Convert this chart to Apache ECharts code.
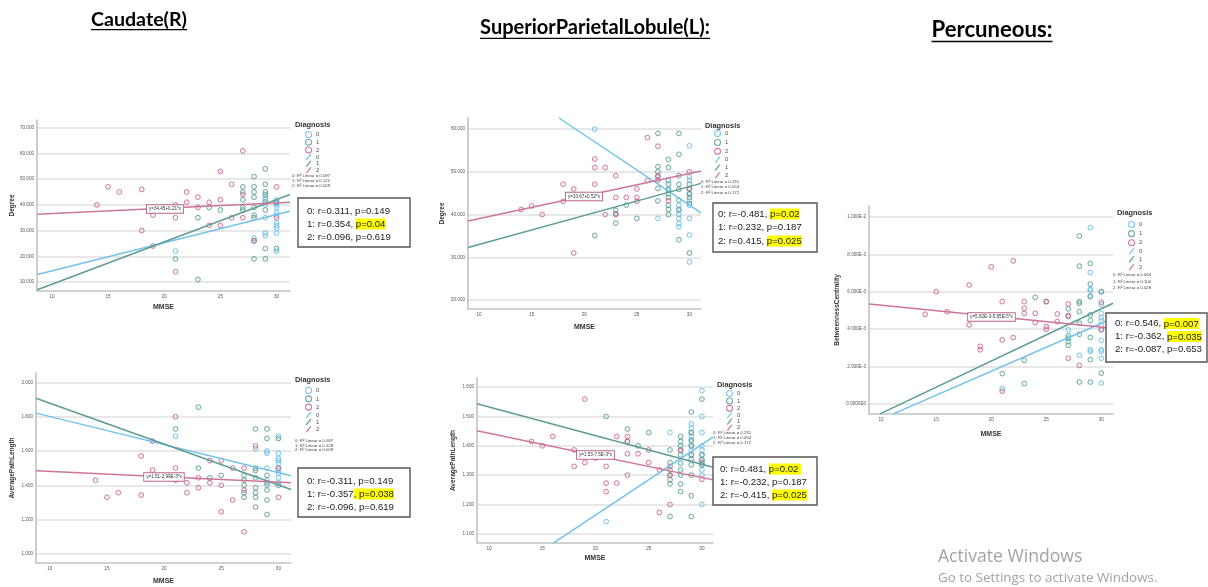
<!DOCTYPE html>
<html><head><meta charset="utf-8">
<script src="https://cdn.jsdelivr.net/npm/echarts@6/dist/echarts.min.js"></script>
<style>html,body{margin:0;padding:0;background:#fff}#c{width:1208px;height:587px}</style>
</head><body><div id="c"></div>
<script>
// ---------------- DATA ----------------
const mmseTicks = [10, 15, 20, 25, 30];
const caudDegTicks = [10, 20, 30, 40, 50, 60, 70];
const caudAplTicks = [1.0, 1.2, 1.4, 1.6, 1.8, 2.0];
const splDegTicks = [20, 30, 40, 50, 60];
const splAplTicks = [1.1, 1.2, 1.3, 1.4, 1.5, 1.6];
const precBcTicks = [0, 0.002, 0.004, 0.006, 0.008, 0.01];
const precBcTickLabels = ['0.0000E0', '2.000E-3', '4.000E-3', '6.000E-3', '8.000E-3', '1.000E-2'];
const groupNames = ['0', '1', '2'];

// Caudate(R) Degree
const caudDeg0 = [[21,22],[28,27],[29,43],[29,42],[29,40],[29,35],[29,29],[29,28],[30,42],[30,41],[30,40],[30,39],[30,37],[30,36],[30,33],[30,32],[30,31],[30,29],[30,22]];
const caudDeg1 = [[21,19],[23,35],[23,11],[24,39],[25,38],[27,47],[27,45],[27,42],[27,39],[27,38],[28,51],[28,47],[28,45],[28,43],[28,39],[28,36],[28,35],[28,26],[28,19],[29,54],[29,48],[29,45],[29,44],[29,41],[29,38],[29,23],[29,19],[30,41],[30,23]];
const caudDeg2 = [[14,40],[15,47],[16,45],[18,46],[18,30],[19,36],[19,24],[21,40],[21,35],[21,14],[22,45],[22,41],[23,43],[23,39],[24,41],[24,32],[25,53],[25,42],[25,32],[26,48],[26,35],[27,61],[27,44],[27,35],[28,26],[30,47],[30,35]];
const caudDegFit0 = [[8.7,12.9],[31.2,37.5]];
const caudDegFit1 = [[8.7,7.0],[31.2,44.0]];
const caudDegFit2 = [[8.7,36.3],[31.2,41.0]];

// Caudate(R) AveragePathLength
const caudApl0 = [[21,1.686],[28,1.614],[29,1.60],[29,1.587],[29,1.50],[29,1.43],[29,1.40],[30,1.686],[30,1.587],[30,1.557],[30,1.544],[30,1.528],[30,1.50],[30,1.487],[30,1.47],[30,1.444],[30,1.415]];
const caudApl1 = [[21,1.729],[23,1.856],[23,1.50],[24,1.444],[25,1.458],[27,1.458],[27,1.43],[27,1.40],[27,1.357],[27,1.33],[28,1.729],[28,1.50],[28,1.487],[28,1.444],[28,1.386],[28,1.357],[28,1.33],[28,1.273],[29,1.729],[29,1.673],[29,1.458],[29,1.415],[29,1.372],[29,1.314],[29,1.23],[30,1.673],[30,1.40]];
const caudApl2 = [[14,1.43],[15,1.33],[16,1.357],[18,1.571],[18,1.343],[19,1.489],[19,1.657],[21,1.80],[21,1.50],[21,1.43],[22,1.415],[22,1.357],[23,1.444],[23,1.386],[24,1.544],[24,1.415],[25,1.544],[25,1.40],[25,1.246],[26,1.50],[26,1.314],[27,1.50],[27,1.372],[27,1.129],[28,1.63],[30,1.50],[30,1.33]];
const caudAplFit0 = [[8.8,1.821],[31.1,1.456]];
const caudAplFit1 = [[8.8,1.908],[31.1,1.376]];
const caudAplFit2 = [[8.8,1.485],[31.1,1.415]];

// SuperiorParietalLobule(L) Degree
const splDeg0 = [[21,60],[27,39.1],[28,45.7],[29,42.2],[29,41],[29,40],[29,39.1],[29,37.9],[29,37.1],[30,56.1],[30,48.8],[30,48],[30,44.9],[30,43.4],[30,42.2],[30,39.1],[30,35.2],[30,28.9]];
const splDeg1 = [[21,35.1],[23,41],[23,40.2],[23,38],[24,42.2],[25,39.1],[27,59],[27,51.2],[27,50],[27,48.8],[27,46.1],[27,43.2],[28,52.9],[28,51],[28,48],[28,47.1],[28,45.9],[28,44.9],[28,44],[28,42.2],[28,41.2],[28,40],[29,59],[29,54.1],[29,49.1],[29,47.1],[29,45.9],[29,43.4],[29,41.2],[29,34.1],[30,47.1],[30,45.9],[30,44.8],[30,44],[30,42.6],[30,31]];
const splDeg2 = [[14,41.2],[15,42],[16,40],[18,47.1],[18,43.1],[19,46],[19,31],[21,53],[21,51],[21,47.1],[22,51],[22,40],[23,49.1],[23,44],[23,40],[24,44],[25,46],[25,44],[25,43.1],[26,58],[26,48],[27,56],[27,49.1],[27,48],[28,43.2],[30,50],[30,46.1]];
const splDegFit0 = [[17.6,62.6],[31.1,40.4]];
const splDegFit1 = [[8.95,32.3],[31.1,47.3]];
const splDegFit2 = [[8.95,38.5],[31.1,50.2]];

// SuperiorParietalLobule(L) AveragePathLength
const splApl0 = [[21,1.142],[27,1.445],[29,1.474],[29,1.46],[29,1.445],[29,1.432],[29,1.415],[29,1.40],[29,1.384],[29,1.369],[30,1.588],[30,1.50],[30,1.445],[30,1.40],[30,1.386],[30,1.369],[30,1.352],[30,1.335],[30,1.318],[30,1.30],[30,1.20]];
const splApl1 = [[21,1.50],[23,1.457],[23,1.415],[24,1.40],[25,1.445],[27,1.386],[27,1.343],[27,1.318],[27,1.30],[27,1.284],[27,1.27],[27,1.159],[28,1.432],[28,1.415],[28,1.40],[28,1.384],[28,1.369],[28,1.341],[28,1.318],[28,1.30],[28,1.27],[28,1.244],[29,1.515],[29,1.445],[29,1.42],[29,1.40],[29,1.369],[29,1.355],[29,1.335],[29,1.30],[29,1.23],[29,1.159],[30,1.559],[30,1.369],[30,1.352],[30,1.335]];
const splApl2 = [[14,1.415],[15,1.40],[16,1.432],[18,1.386],[18,1.33],[19,1.559],[19,1.343],[20,1.358],[21,1.33],[21,1.273],[21,1.244],[22,1.432],[22,1.273],[23,1.432],[23,1.415],[23,1.373],[23,1.30],[24,1.373],[25,1.386],[25,1.343],[26,1.318],[26,1.173],[27,1.33],[27,1.30],[27,1.20],[28,1.386],[30,1.343],[30,1.286]];
const splAplFit0 = [[16.0,1.068],[31.04,1.43]];
const splAplFit1 = [[8.87,1.543],[31.04,1.327]];
const splAplFit2 = [[8.87,1.451],[31.04,1.284]];

// Percuneous BetweennessCentrality
const precBc0 = [[21,0.00081],[27,0.00396],[28,0.00259],[29,0.00943],[29,0.00703],[29,0.00614],[29,0.00609],[29,0.00573],[29,0.00289],[29,0.0028],[30,0.0060],[30,0.00532],[30,0.00484],[30,0.00461],[30,0.00444],[30,0.00419],[30,0.00396],[30,0.00339],[30,0.00289],[30,0.0028],[30,0.00244],[30,0.00111]];
const precBc1 = [[21,0.00161],[23,0.00232],[23,0.00108],[24,0.0057],[25,0.00547],[27,0.00508],[27,0.00467],[27,0.00364],[27,0.00351],[27,0.00333],[27,0.00312],[28,0.00899],[28,0.00737],[28,0.00547],[28,0.00538],[28,0.00493],[28,0.00431],[28,0.00372],[28,0.00116],[29,0.00751],[29,0.00641],[29,0.00577],[29,0.00476],[29,0.00445],[29,0.00355],[29,0.00236],[29,0.00116],[30,0.0060],[30,0.00164]];
const precBc2 = [[14,0.00479],[15,0.0060],[16,0.00493],[18,0.00636],[18,0.00422],[19,0.00307],[19,0.00289],[20,0.00733],[21,0.00547],[21,0.00342],[21,0.00067],[22,0.00765],[22,0.00355],[23,0.00547],[23,0.00511],[23,0.00484],[24,0.00484],[24,0.00435],[25,0.00547],[25,0.00413],[25,0.00399],[26,0.00481],[26,0.0044],[27,0.00534],[27,0.00472],[27,0.00244],[28,0.00205],[30,0.00543],[30,0.00396]];
const precBcFit0 = [[11.1,-0.00054],[31.06,0.00458]];
const precBcFit1 = [[9.9,-0.00054],[31.06,0.00538]];
const precBcFit2 = [[8.9,0.00534],[31.06,0.00404]];

// Texts
const caudDegR2 = ['0: R\u00b2 Linear = 0.097', '1: R\u00b2 Linear = 0.125', '2: R\u00b2 Linear = 0.009'];
const caudAplR2 = ['0: R\u00b2 Linear = 0.097', '1: R\u00b2 Linear = 0.128', '2: R\u00b2 Linear = 0.009'];
const splDegR2 = ['0: R\u00b2 Linear = 0.231', '1: R\u00b2 Linear = 0.054', '2: R\u00b2 Linear = 0.172'];
const splAplR2 = ['0: R\u00b2 Linear = 0.231', '1: R\u00b2 Linear = 0.054', '2: R\u00b2 Linear = 0.172'];
const precBcR2 = ['0: R\u00b2 Linear = 0.064', '1: R\u00b2 Linear = 0.100', '2: R\u00b2 Linear = 0.028'];
const caudDegStats = [['0: r=0.311, p=0.149', ''], ['1: r=0.354, ', 'p=0.04'], ['2: r=0.096, p=0.619', '']];
const caudAplStats = [['0: r=-0.311, p=0.149', ''], ['1: r=-0.357', ', p=0.038'], ['2: r=-0.096, p=0.619', '']];
const splDegStats = [['0: r=-0.481, ', 'p=0.02'], ['1: r=0.232, p=0.187', ''], ['2: r=0.415, ', 'p=0.025']];
const splAplStats = [['0: r=0.481, ', 'p=0.02 '], ['1: r=-0.232, p=0.187', ''], ['2: r=-0.415, ', 'p=0.025']];
const precBcStats = [['0: r=0.546, ', 'p=0.007'], ['1: r=-0.362, ', 'p=0.035'], ['2: r=-0.087, p=0.653', '']];

// ---------------- STYLE / LAYOUT ----------------
const COL = ['#5fb9e6', '#4f978b', '#c45d89'];
const FILL = ['rgba(95,185,230,0.10)', 'rgba(79,151,139,0.10)', 'rgba(196,93,137,0.10)'];
const LINECOL = ['#72c2ec', '#5e9d91', '#cf7499'];

const panels = [
  { grid: {left: 37, top: 120, width: 253, height: 171}, x: [8.67, 31.2], y: [6.5, 73], yTicks: caudDegTicks,
    yFmt: v => v.toFixed(3), yName: 'Degree', yGap: 21.5, xGap: 12.5,
    groups: [caudDeg0, caudDeg1, caudDeg2], fits: [caudDegFit0, caudDegFit1, caudDegFit2],
    legend: {left: 305, top: 131, gap: 0.6}, diag: [295, 125], r2: {x: 292, y: 176, dy: 5, lines: caudDegR2},
    stats: {box: [298, 198, 112, 49], tx: 307, ty: [211, 224, 237], lines: caudDegStats},
    eq: {x: 165, y: 209, text: 'y=34.45+0.21*x'} },
  { grid: {left: 36, top: 373, width: 255, height: 190}, x: [8.8, 31.1], y: [0.947, 2.055], yTicks: caudAplTicks,
    yFmt: v => v.toFixed(3), yName: 'AveragePathLength', yGap: 20.5, xGap: 14.5,
    groups: [caudApl0, caudApl1, caudApl2], fits: [caudAplFit0, caudAplFit1, caudAplFit2],
    legend: {left: 305, top: 387, gap: 1.2}, diag: [295, 380], r2: {x: 295, y: 441, dy: 4.5, lines: caudAplR2},
    stats: {box: [298, 468, 112, 49], tx: 307, ty: [481, 494, 507], lines: caudAplStats},
    eq: {x: 164, y: 477, text: 'y=1.51-2.99E-3*x'} },
  { grid: {left: 468, top: 118, width: 233, height: 191}, x: [8.95, 31.1], y: [17.9, 62.6], yTicks: splDegTicks,
    yFmt: v => v.toFixed(3), yName: 'Degree', yGap: 22.5, xGap: 14.5,
    groups: [splDeg0, splDeg1, splDeg2], fits: [splDegFit0, splDegFit1, splDegFit2],
    legend: {left: 714, top: 130, gap: 1.8}, diag: [705, 126], r2: {x: 701, y: 182, dy: 5.3, lines: splDegR2},
    stats: {box: [713, 203, 104, 49], tx: 718, ty: [214, 227.5, 241], lines: splDegStats},
    eq: {x: 584, y: 196.5, text: 'y=33.67+0.52*x'} },
  { grid: {left: 477, top: 378, width: 236, height: 165}, x: [8.87, 31.04], y: [1.069, 1.631], yTicks: splAplTicks,
    yFmt: v => v.toFixed(3), yName: 'AveragePathLength', yGap: 20.5, xGap: 11.5,
    groups: [splApl0, splApl1, splApl2], fits: [splAplFit0, splAplFit1, splAplFit2],
    legend: {left: 726, top: 390, gap: 0.3}, diag: [717, 385], r2: {x: 713, y: 433, dy: 5, lines: splAplR2},
    stats: {box: [713, 457, 104, 48], tx: 720, ty: [469, 482, 495], lines: splAplStats},
    eq: {x: 595.5, y: 455, text: 'y=1.53-7.5E-3*x'} },
  { grid: {left: 869, top: 206, width: 244, height: 208}, x: [8.9, 31.06], y: [-0.00055, 0.01059], yTicks: precBcTicks,
    yFmt: v => { const i = precBcTicks.indexOf(v); return i >= 0 ? precBcTickLabels[i] : v.toExponential(3).toUpperCase().replace('+', ''); },
    yName: 'BetweennessCentrality', yGap: 28.5, xGap: 16.5,
    groups: [precBc0, precBc1, precBc2], fits: [precBcFit0, precBcFit1, precBcFit2],
    legend: {left: 1128, top: 221, gap: 2}, diag: [1117, 213], r2: {x: 1113, y: 275, dy: 6.5, lines: precBcR2},
    stats: {box: [1106, 313, 101, 49], tx: 1115, ty: [323.5, 336.5, 349.5], lines: precBcStats},
    eq: {x: 991.5, y: 317, text: 'y=5.82E-3-5.85E-5*x'} }
];

const titles = [
  {text: 'Caudate(R)', cx: 139, cy: 19.5, w: 96},
  {text: 'SuperiorParietalLobule(L):', cx: 595, cy: 28, w: 230},
  {text: 'Percuneous:', cx: 992, cy: 30, w: 121}
];

// ---------------- BUILD ----------------
const grids = [], xAxes = [], yAxes = [], series = [], legends = [], graphics = [];
const TICKFONT = {fontSize: 4.6, color: '#555', fontFamily: 'Liberation Sans'};

panels.forEach((p, i) => {
  grids.push(Object.assign({containLabel: false}, p.grid));
  xAxes.push({
    type: 'value', gridIndex: i, min: p.x[0], max: p.x[1],
    axisLine: {show: true, onZero: false, lineStyle: {color: '#c2c2c2', width: 1.6}},
    axisTick: {show: false, customValues: mmseTicks},
    axisLabel: Object.assign({customValues: mmseTicks, margin: 3}, TICKFONT),
    splitLine: {show: false},
    name: 'MMSE', nameLocation: 'middle', nameGap: p.xGap,
    nameTextStyle: {fontSize: 7, fontWeight: 'bold', color: '#333', fontFamily: 'Liberation Sans'}
  });
  yAxes.push({
    type: 'value', gridIndex: i, min: p.y[0], max: p.y[1],
    axisLine: {show: true, onZero: false, lineStyle: {color: '#c2c2c2', width: 1.6}},
    axisTick: {show: false, customValues: p.yTicks},
    axisLabel: Object.assign({customValues: p.yTicks, margin: 3, formatter: p.yFmt}, TICKFONT),
    splitLine: {show: true, lineStyle: {color: '#e1e1e1', width: 1.5}},
    name: p.yName, nameLocation: 'middle', nameGap: p.yGap,
    nameTextStyle: {fontSize: 6.5, fontWeight: 'bold', color: '#333', fontFamily: 'Liberation Sans'}
  });
  p.groups.forEach((g, k) => {
    series.push({
      type: 'scatter', name: groupNames[k], xAxisIndex: i, yAxisIndex: i, data: g,
      symbol: 'circle', symbolSize: 4.8, z: 2, silent: true,
      itemStyle: {color: FILL[k], borderColor: COL[k], borderWidth: 1}
    });
  });
  p.fits.forEach((f, k) => {
    series.push({
      type: 'line', name: 'fit' + groupNames[k], xAxisIndex: i, yAxisIndex: i, data: f,
      showSymbol: false, symbol: 'none', clip: true, z: 3, silent: true,
      lineStyle: {color: LINECOL[k], width: 1.5}, itemStyle: {color: LINECOL[k]}
    });
  });
  const legData = [];
  groupNames.forEach((n, k) => legData.push({name: n, icon: 'circle',
    itemStyle: {color: 'rgba(255,255,255,0)', borderColor: COL[k], borderWidth: 1.1}}));
  groupNames.forEach((n, k) => legData.push({name: 'fit' + n, icon: 'path://M0,10L2.5,10L10,0L7.5,0Z',
    itemStyle: {color: LINECOL[k], borderWidth: 0}}));
  legends.push({
    left: p.legend.left, top: p.legend.top, orient: 'vertical', itemGap: p.legend.gap,
    itemWidth: 7, itemHeight: 6, padding: 0, selectedMode: false, data: legData,
    formatter: n => n.replace('fit', ''),
    textStyle: {fontSize: 6, color: '#555', fontFamily: 'Liberation Sans', padding: [0, 0, 0, -1]}
  });
  graphics.push({type: 'text', x: p.diag[0], y: p.diag[1], z: 100,
    style: {text: 'Diagnosis', fontSize: 7.4, fontWeight: 'bold', fontFamily: 'Liberation Sans', fill: '#333', align: 'left', verticalAlign: 'middle'}});
  p.r2.lines.forEach((t, k) => graphics.push({type: 'text', x: p.r2.x, y: p.r2.y + k * p.r2.dy, z: 100,
    style: {text: t, fontSize: 4.3, fontFamily: 'Liberation Sans', fill: '#444', align: 'left', verticalAlign: 'middle'}}));
  const b = p.stats.box;
  graphics.push({type: 'rect', z: 100, shape: {x: b[0], y: b[1], width: b[2], height: b[3]},
    style: {fill: '#fff', stroke: '#555', lineWidth: 1.4}});
  p.stats.lines.forEach((ln, k) => {
    const txt = '{n|' + ln[0] + '}' + (ln[1] ? '{h|' + ln[1] + '}' : '');
    graphics.push({type: 'text', x: p.stats.tx, y: p.stats.ty[k], z: 101,
      style: {text: txt, align: 'left', verticalAlign: 'middle',
        rich: {n: {fontSize: 9.6, fontFamily: 'Liberation Sans', fill: '#222'},
               h: {fontSize: 9.6, fontFamily: 'Liberation Sans', fill: '#222', backgroundColor: '#ffff00', padding: [1, 0, 0, 0]}}}});
  });
  graphics.push({type: 'text', x: p.eq.x, y: p.eq.y, z: 100,
    style: {text: p.eq.text, fontSize: 4.6, fontFamily: 'Liberation Sans', fill: '#333', align: 'center', verticalAlign: 'middle',
      backgroundColor: '#fff', borderColor: '#b9668c', borderWidth: 0.9, padding: [1.5, 2, 1, 2]}});
});

// titles with underline
const mctx = document.createElement('canvas').getContext('2d');
titles.forEach(t => {
  mctx.font = 'bold 20px Lato';
  const w20 = mctx.measureText(t.text).width || t.w;
  const fs = 20 * t.w / w20;
  graphics.push({type: 'text', x: t.cx, y: t.cy, z: 100,
    style: {text: t.text, fontSize: fs, fontWeight: 'bold', fontFamily: 'Lato', fill: '#000', align: 'center', verticalAlign: 'middle'}});
  graphics.push({type: 'line', z: 100, shape: {x1: t.cx - t.w / 2, y1: t.cy + fs * 0.52, x2: t.cx + t.w / 2, y2: t.cy + fs * 0.52},
    style: {stroke: '#000', lineWidth: 1.3}});
});

// watermark
graphics.push({type: 'text', x: 938, y: 557, z: 100,
  style: {text: 'Activate Windows', fontSize: 17.6, fontFamily: 'Open Sans', fill: '#a3a3a3', align: 'left', verticalAlign: 'middle'}});
graphics.push({type: 'text', x: 938, y: 578, z: 100,
  style: {text: 'Go to Settings to activate Windows.', fontSize: 13.4, fontFamily: 'Open Sans', fill: '#a3a3a3', align: 'left', verticalAlign: 'middle'}});

const chart = echarts.init(document.getElementById('c'), null, {renderer: 'canvas'});
chart.setOption({
  backgroundColor: '#fff',
  animation: false,
  grid: grids, xAxis: xAxes, yAxis: yAxes, series: series, legend: legends,
  graphic: {elements: graphics}
});
</script></body></html>
